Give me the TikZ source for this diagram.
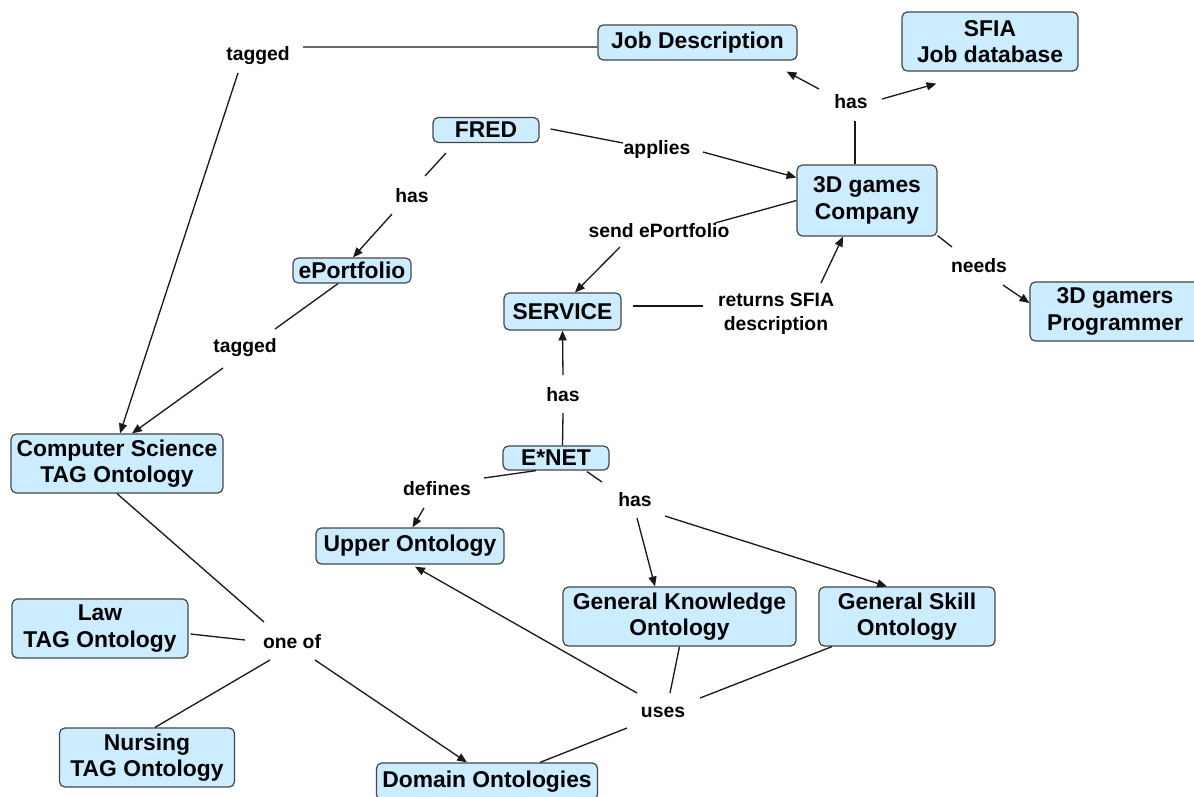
\documentclass[tikz,border=0pt]{standalone}
\usepackage{fontspec}
\setmainfont{Liberation Sans}
\usetikzlibrary{arrows.meta,calc}
\definecolor{conceptfill}{RGB}{204,236,255}
\definecolor{conceptline}{RGB}{70,70,70}
\definecolor{linkline}{RGB}{25,25,25}
\tikzset{
  concept/.style={draw=conceptline, line width=0.7pt, fill=conceptfill,
    rounded corners=3pt, align=center, inner sep=0pt,
    font=\fontsize{13}{15.2}\selectfont\bfseries},
  phrase/.style={inner sep=1pt, align=center,
    font=\fontsize{11}{13.5}\selectfont\bfseries},
  link/.style={draw=linkline, line width=0.75pt},
  linkto/.style={link, -{Triangle[length=5.6pt,width=4.6pt]}},
}
\begin{document}
\begin{tikzpicture}[x=0.02cm,y=-0.02cm]
\useasboundingbox[fill=white] (0,0) rectangle (1194,796);

% concepts (centre, box size in px)
\node[concept, minimum width=3.98cm, minimum height=0.70cm] (jd)      at (697.5,42.5)  {Job Description};
\node[concept, minimum width=3.52cm, minimum height=1.18cm] (sfia)    at (990,41.5)    {SFIA\\Job database};
\node[concept, minimum width=2.12cm, minimum height=0.50cm] (fred)    at (486,130)     {FRED};
\node[concept, minimum width=2.80cm, minimum height=1.42cm] (comp)    at (867,200.5)   {3D games\\Company};
\node[concept, minimum width=2.36cm, minimum height=0.50cm] (eport)   at (352,270.5)   {ePortfolio};
\node[concept, minimum width=2.34cm, minimum height=0.74cm] (service) at (562.5,311.5) {SERVICE};
\node[concept, minimum width=3.40cm, minimum height=1.18cm] (prog)    at (1115,311.5)  {3D gamers\\Programmer};
\node[concept, minimum width=4.24cm, minimum height=1.18cm] (cs)      at (117,463.5)   {Computer Science\\TAG Ontology};
\node[concept, minimum width=2.12cm, minimum height=0.48cm] (enet)    at (556,458)     {E*NET};
\node[concept, minimum width=3.76cm, minimum height=0.72cm] (upper)   at (410,546)     {Upper Ontology};
\node[concept, minimum width=3.52cm, minimum height=1.18cm] (law)     at (100,628.5)   {Law\\TAG Ontology};
\node[concept, minimum width=3.50cm, minimum height=1.18cm] (nurs)    at (147,757.5)   {Nursing\\TAG Ontology};
\node[concept, minimum width=4.42cm, minimum height=0.74cm] (domain)  at (487,781.5)   {Domain Ontologies};
\node[concept, minimum width=4.66cm, minimum height=1.18cm] (gk)      at (679.5,616.5) {General Knowledge\\Ontology};
\node[concept, minimum width=3.52cm, minimum height=1.18cm] (gs)      at (907,616.5)   {General Skill\\Ontology};

% linking phrases
\node[phrase] (tag1)    at (258,56)  {tagged};
\node[phrase] (hasF)    at (412,196) {has};
\node[phrase] (applies) at (657,149) {applies};
\node[phrase] (hasC)    at (851,102) {has};
\node[phrase] (send)    at (659,231) {send ePortfolio};
\node[phrase] (needs)   at (979,266) {needs};
\node[phrase] (returns) at (776,314) {returns SFIA\\description};
\node[phrase] (tag2)    at (245,348) {tagged};
\node[phrase] (hasE)    at (563,395) {has};
\node[phrase] (defines) at (437,489) {defines};
\node[phrase] (hasG)    at (635,500) {has};
\node[phrase] (oneof)   at (292,642) {one of};
\node[phrase] (uses)    at (663,712) {uses};

% Job Description -- tagged --> Computer Science
\draw[link]   ($(jd.west)+(0,4.5)$) -- ($(tag1)+(45,-9)$);
\draw[linkto] ($(tag1)+(-20,17)$) -- ($(cs.north)+(3,0)$);

% FRED -- applies --> 3D games Company
\draw[link]   ($(fred.east)+(11,-1)$) -- ($(applies)+(-34,-6)$);
\draw[linkto] ($(applies)+(46,3)$) -- ($(comp.west)+(0,-23)$);

% FRED -- has --> ePortfolio -- tagged --> Computer Science
\draw[link]   ($(fred)+(-40,23)$) -- ($(hasF)+(13,-20)$);
\draw[linkto] ($(hasF)+(-20,18)$) -- ($(eport.north)+(1,0)$);
\draw[link]   ($(eport.south)+(-14,0)$) -- ($(tag2)+(30,-19)$);
\draw[linkto] ($(tag2)+(-22,20)$) -- ($(cs.north)+(15,0)$);

% 3D games Company -- has --> Job Description, SFIA Job database
\draw[link]   ($(comp.north)+(-12,0)$) -- ($(hasC)+(4,19)$);
\draw[linkto] ($(hasC)+(-32,-13)$) -- ($(jd.south east)+(-11,11)$);
\draw[linkto] ($(hasC)+(31,-3)$) -- ($(sfia.south west)+(35,12)$);

% 3D games Company -- send ePortfolio --> SERVICE
\draw[link]   (comp.west) -- ($(send)+(56,-8)$);
\draw[linkto] ($(send)+(-39,16)$) -- ($(service.north)+(12.5,0)$);

% SERVICE -- returns SFIA description --> 3D games Company
\draw[link]   ($(service.east)+(11,-5.5)$) -- ($(returns)+(-73,-8)$);
\draw[linkto] ($(returns)+(45,-31)$) -- ($(comp.south)+(-24,0)$);

% 3D games Company -- needs --> 3D gamers Programmer
\draw[link]   ($(comp.south east)+(0,-1)$) -- ($(needs)+(-27,-19)$);
\draw[linkto] ($(needs)+(24,19)$) -- ($(prog.west)+(0,-8.5)$);

% E*NET -- has --> SERVICE
\draw[link]   ($(enet.north)+(6.5,0)$) -- ($(hasE)+(0,18)$);
\draw[linkto] ($(hasE)+(0,-20)$) -- (service.south);

% E*NET -- defines --> Upper Ontology
\draw[link]   ($(enet.south)+(-20,0)$) -- ($(defines)+(47,-11)$);
\draw[linkto] ($(defines)+(-13,19)$) -- ($(upper.north)+(2.5,0)$);

% E*NET -- has --> General Knowledge / General Skill
\draw[link]   ($(enet.south)+(31,1)$) -- ($(hasG)+(-33,-18)$);
\draw[linkto] ($(hasG)+(2,18)$) -- ($(gk.north)+(-24.5,0)$);
\draw[linkto] ($(hasG)+(30,16)$) -- ($(gs.north)+(-20,0)$);

% TAG ontologies -- one of --> Domain Ontologies
\draw[link]   (cs.south) -- ($(oneof)+(-28,-20)$);
\draw[link]   ($(law.east)+(2,5.5)$) -- ($(oneof)+(-47,-2)$);
\draw[link]   ($(nurs.north)+(8,0)$) -- ($(oneof)+(-22,18)$);
\draw[linkto] ($(oneof)+(23,18)$) -- ($(domain.north)+(-20,0)$);

% General Knowledge / General Skill -- uses --> Upper Ontology, Domain Ontologies
\draw[link]   (gk.south) -- ($(uses)+(7,-19)$);
\draw[link]   ($(gs.south)+(-75,0)$) -- ($(uses)+(37,-14)$);
\draw[linkto] ($(uses)+(-26,-19)$) -- ($(upper.south)+(5,2)$);
\draw[link]   ($(uses)+(-36,16)$) -- ($(domain.north)+(53,0)$);
\end{tikzpicture}
\end{document}
